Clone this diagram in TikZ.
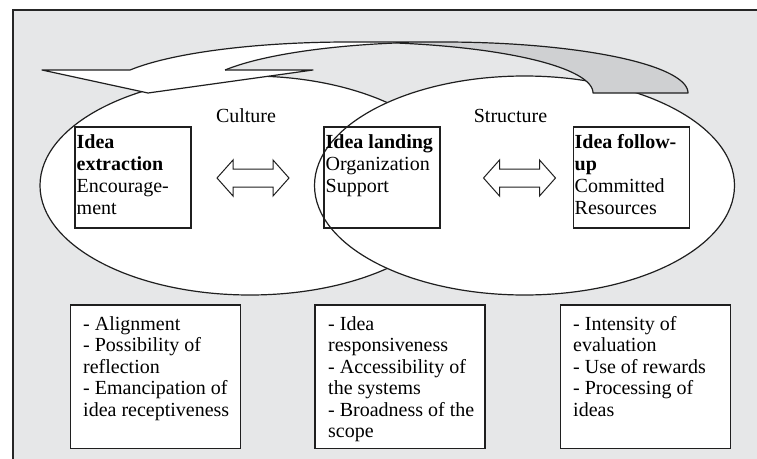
\documentclass[tikz,border=0pt]{standalone}
\usepackage{fontspec}
\setmainfont{Liberation Serif}
\usetikzlibrary{shapes.geometric}
\definecolor{panel}{RGB}{230,231,232}
\definecolor{underside}{RGB}{207,208,210}
\begin{document}
\begin{tikzpicture}[x=1pt,y=-1pt,
  outline/.style={draw=black!88, line width=1.2pt},
  region/.style={ellipse, outline, fill=white, minimum width=420pt, minimum height=219pt, inner sep=0pt},
  stagebox/.style={outline, line width=1.4pt, minimum width=116pt, minimum height=101pt, inner sep=0pt},
  stagetext/.style={anchor=north west, inner sep=0pt, align=left, font=\fontsize{20}{22}\selectfont},
  factorbox/.style={outline, line width=1.4pt, fill=white, minimum width=170pt, minimum height=143.5pt, inner sep=0pt},
  factortext/.style={anchor=north west, inner sep=0pt, align=left, font=\fontsize{20}{21.5}\selectfont},
  areaname/.style={anchor=base, inner sep=0pt, font=\fontsize{20}{22}\selectfont},
  twoway/.style={outline, line width=1pt, fill=white, line join=miter},
]
\clip (0,0) rectangle (757,458);
\fill[white] (0,0) rectangle (757,458);
% grey panel, running past the right and bottom edges
\draw[fill=panel, line width=1.5pt, draw=black!85] (13,10) rectangle (790,490);

% the two overlapping areas
\node[region] (culture) at (250,185.5) {};
\node[region] (structure) at (524.5,185.5) {};

% curved arrow: front face
\fill[white] (148,93) -- (42,70) -- (130,70)
  -- plot[domain=206.8:270, samples=40] ({348.4+244.6*cos(\x)},{93+51*sin(\x)})
  -- (443.4,42)
  -- plot[domain=270:206.8, samples=40] ({443.4+244.6*cos(\x)},{93+51*sin(\x)})
  -- (313,70) -- cycle;
% curved arrow: underside at the tail
\fill[underside] plot[domain=258.8:360, samples=50] ({443.4+244.6*cos(\x)},{93+51*sin(\x)})
  -- (593,93)
  -- plot[domain=360:281.2, samples=40] ({348.4+244.6*cos(\x)},{93+51*sin(\x)}) -- cycle;
% curved arrow: outline
\draw[outline, line join=round] (225,70) -- (313,70) -- (148,93) -- (42,70) -- (130,70)
  -- plot[domain=206.8:270, samples=40] ({348.4+244.6*cos(\x)},{93+51*sin(\x)})
  -- (443.4,42)
  -- plot[domain=270:360, samples=50] ({443.4+244.6*cos(\x)},{93+51*sin(\x)})
  -- (593,93)
  -- plot[domain=360:281.2, samples=40] ({348.4+244.6*cos(\x)},{93+51*sin(\x)});
\draw[outline] plot[domain=206.8:258.8, samples=40] ({443.4+244.6*cos(\x)},{93+51*sin(\x)});

% area names
\node[areaname] (culturename) at (246,122) {Culture};
\node[areaname] (structurename) at (510.5,122) {Structure};

% stage boxes
\node[stagebox] (extraction) at (133,177.5) {};
\node[stagebox] (landing) at (382,177.5) {};
\node[stagebox] (followup) at (631.5,177.5) {};
\node[stagetext] (extractiontext) at (76.5,134) {\rule{0pt}{14pt}\textbf{Idea}\\\textbf{extraction}\\Encourage-\\ment};
\node[stagetext] (landingtext) at (325.5,134) {\rule{0pt}{14pt}\textbf{Idea landing}\\Organization\\Support};
\node[stagetext] (followuptext) at (574.5,134) {\rule{0pt}{14pt}\textbf{Idea follow-}\\\textbf{up}\\Committed\\Resources};

% two-way block arrows between the stages
\coordinate (linkA) at (253,178);
\coordinate (linkB) at (519.5,178);
\foreach \c in {linkA,linkB}
  \draw[twoway, shift={(\c)}] (-36,0) -- (-20,-18) -- (-20,-9) -- (20,-9) -- (20,-18)
    -- (36,0) -- (20,18) -- (20,9) -- (-20,9) -- (-20,18) -- cycle;

% factor boxes
\node[factorbox] (cultfactors) at (155.5,376.75) {};
\node[factorbox] (landfactors) at (400,376.75) {};
\node[factorbox] (followfactors) at (645.5,376.75) {};
\node[factortext] (cultlist) at (83,316) {\rule{0pt}{14pt}- Alignment\\- Possibility of\\reflection\\- Emancipation of\\idea receptiveness};
\node[factortext] (landlist) at (328,316) {\rule{0pt}{14pt}- Idea\\responsiveness\\- Accessibility of\\the systems\\- Broadness of the\\scope};
\node[factortext] (followlist) at (573,316) {\rule{0pt}{14pt}- Intensity of\\evaluation\\- Use of rewards\\- Processing of\\ideas};
\end{tikzpicture}
\end{document}
